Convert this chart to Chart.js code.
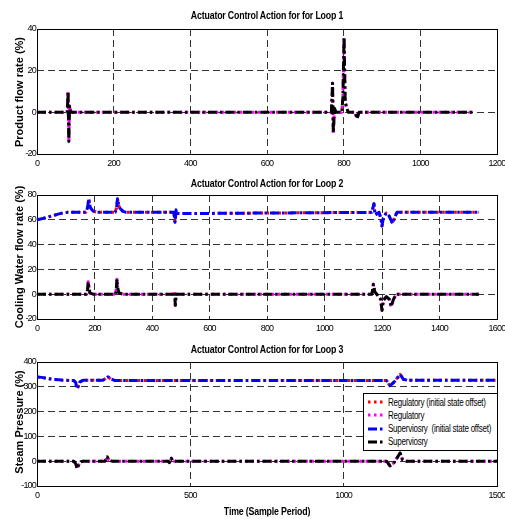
<!DOCTYPE html>
<html>
<head>
<meta charset="utf-8">
<script src="https://cdn.jsdelivr.net/npm/chart.js@4.4.0/dist/chart.umd.min.js"></script>
<style>
  body { margin: 0; background: #fff; }
  #wrap { position: relative; width: 505px; height: 519px; overflow: hidden; background: #fff; }
  canvas { position: absolute; left: 0; top: 0; }
  .lbl { position: absolute; white-space: nowrap; color: #000; font-family: 'Liberation Sans', Arial, sans-serif; font-weight: bold; }
  .ttl { font-size: 10px; letter-spacing: -0.2px; transform: translate(-50%, -50%) scaleX(0.88); }
  .ylab { font-size: 11px; transform: translate(-50%, -50%) rotate(-90deg); }
  #legend { position: absolute; left: 363px; top: 393px; width: 133px; height: 56px; border: 1px solid #000; background: #fff; font-family: 'Liberation Sans', Arial, sans-serif; font-size: 10px; }
  #legend .row { position: absolute; left: 4px; height: 12px; display: flex; align-items: center; white-space: pre; }
  #legend svg { margin-right: 3px; flex: none; }
  #legend span { display: inline-block; white-space: pre; transform-origin: left center; transform: scaleX(0.8); letter-spacing: -0.3px; }
</style>
</head>
<body>
<div id="wrap">
  <canvas id="c1" width="505" height="519"></canvas>
  <canvas id="c2" width="505" height="519"></canvas>
  <canvas id="c3" width="505" height="519"></canvas>

  <div class="lbl ttl" style="left:267px; top:15px;">Actuator Control Action for for Loop 1</div>
  <div class="lbl ttl" style="left:267px; top:183px;">Actuator Control Action for for Loop 2</div>
  <div class="lbl ttl" style="left:267px; top:349px;">Actuator Control Action for for Loop 3</div>
  <div class="lbl ylab" style="left:19px; top:92px;">Product flow rate (%)</div>
  <div class="lbl ylab" style="left:19px; top:257px;">Cooling Water flow rate (%)</div>
  <div class="lbl ylab" style="left:19px; top:422px;">Steam Pressure (%)</div>
  <div class="lbl ttl" style="left:267px; top:511px;">Time (Sample Period)</div>

  <div id="legend"></div>
</div>

<script>
// series names (legend order)
const seriesNames = ['Regulatory (initial state offset)', 'Regulatory', 'Superviosry  (initial state offset)', 'Superviosry'];

// tick settings per loop
const loop1XTicks = { min: 0, max: 1200, step: 200 };
const loop1YTicks = { min: -20, max: 40, step: 20 };
const loop2XTicks = { min: 0, max: 1600, step: 200 };
const loop2YTicks = { min: -20, max: 80, step: 20 };
const loop3XTicks = { min: 0, max: 1500, step: 500 };
const loop3YTicks = { min: -100, max: 400, step: 100 };

// Loop 1 - product flow rate [sample, %]
const loop1Regulatory = [[0,0],[79,0],[81,10],[83,-14],[85,3],[88,0],[768,0],[771,14],[773,-10],[776,2],[780,0],[795,0],[798,7],[801,36],[804,5],[808,2],[812,0],[830,0],[835,-3],[840,0],[1137,0]];
const loop1Supervisory = [[0,0],[79,0],[81,10],[83,-14],[85,3],[88,0],[768,0],[771,14],[773,-10],[776,2],[780,0],[795,0],[798,7],[801,36],[804,5],[808,2],[812,0],[830,0],[835,-3],[840,0],[1137,0]];

// Loop 2 - cooling water flow rate
const loop2RegulatoryOffset = [[0,60],[20,61],[50,63],[80,65],[105,66],[170,66],[176,70],[180,77],[185,70],[195,67],[210,66],[272,66],[277,70],[280,77],[286,70],[298,67],[310,66],[476,66],[480,58],[484,68],[490,65],[1165,66],[1172,73],[1176,64],[1190,66],[1197,60],[1200,55],[1205,62],[1215,65.5],[1225,63],[1237,57],[1244,62],[1252,66],[1537,66]];
const loop2Regulatory = [[0,0],[172,0],[176,4],[178,10],[181,5],[184,1],[195,0],[273,0],[276,5],[278,12],[281,5],[285,1],[300,0],[476,0],[479,2],[481,-9],[484,0],[1165,0],[1170,8],[1175,2],[1185,-1],[1195,-4],[1200,-13],[1205,-5],[1215,-2],[1225,-4],[1232,-10],[1240,-4],[1250,0],[1537,0]];
const loop2SupervisoryOffset = [[0,60],[20,61],[50,63],[80,65],[105,66],[170,66],[176,70],[180,77],[185,70],[195,67],[210,66],[272,66],[277,70],[280,77],[286,70],[298,67],[310,66],[476,66],[480,58],[484,68],[490,65],[1165,66],[1172,73],[1176,64],[1190,66],[1197,60],[1200,55],[1205,62],[1215,65.5],[1225,63],[1237,57],[1244,62],[1252,66],[1537,66]];
const loop2Supervisory = [[0,0],[172,0],[176,4],[178,10],[181,5],[184,1],[195,0],[273,0],[276,5],[278,12],[281,5],[285,1],[300,0],[476,0],[479,2],[481,-9],[484,0],[1165,0],[1170,8],[1175,2],[1185,-1],[1195,-4],[1200,-13],[1205,-5],[1215,-2],[1225,-4],[1232,-10],[1240,-4],[1250,0],[1537,0]];

// Loop 3 - steam pressure
const loop3RegulatoryOffset = [[0,340],[15,338],[40,332],[80,327],[120,325],[126,318],[130,292],[134,300],[140,320],[150,326],[215,326],[225,335],[232,340],[240,332],[255,325],[1140,325],[1151,304],[1165,320],[1184,350],[1195,330],[1210,326],[1500,326]];
const loop3Regulatory = [[0,0],[120,0],[126,-10],[131,-30],[136,-15],[143,-2],[150,0],[222,0],[229,18],[234,5],[245,0],[428,0],[432,-6],[438,12],[444,0],[1140,0],[1151,-19],[1165,-5],[1184,33],[1192,5],[1205,0],[1500,0]];
const loop3SupervisoryOffset = [[0,340],[15,338],[40,332],[80,327],[120,325],[126,318],[130,292],[134,300],[140,320],[150,326],[215,326],[225,335],[232,340],[240,332],[255,325],[1140,325],[1151,304],[1165,320],[1184,350],[1195,330],[1210,326],[1500,326]];
const loop3Supervisory = [[0,0],[120,0],[126,-10],[131,-30],[136,-15],[143,-2],[150,0],[222,0],[229,18],[234,5],[245,0],[428,0],[432,-6],[438,12],[444,0],[1140,0],[1151,-19],[1165,-5],[1184,33],[1192,5],[1205,0],[1500,0]];

const styles = [
  { color: '#ff0000', dash: [2.5, 3.5], width: 3, order: 3 },
  { color: '#ff00ff', dash: [2.5, 3.5], width: 3, order: 2 },
  { color: '#0000ff', dash: [9, 3, 2.5, 3], width: 3, order: 1 },
  { color: '#000000', dash: [9, 3, 2.5, 3], width: 3, order: 0 }
];

const tickFont = { family: "'Liberation Sans', Arial, sans-serif", size: 9 };

// solid box around the plot, and tighter tick text
const frame = {
  id: 'frame',
  beforeDraw(chart) {
    chart.ctx.letterSpacing = '-0.8px';
  },
  beforeDatasetsDraw(chart) {
    const { ctx, chartArea: a } = chart;
    ctx.save();
    ctx.strokeStyle = '#000';
    ctx.lineWidth = 1;
    ctx.setLineDash([]);
    ctx.strokeRect(a.left + 0.5, a.top + 0.5, a.right - a.left, a.bottom - a.top);
    ctx.restore();
  }
};

function makeDataset(idx, points) {
  const s = styles[idx];
  return {
    label: seriesNames[idx],
    data: points.map(p => ({ x: p[0], y: p[1] })),
    borderColor: s.color,
    borderDash: s.dash,
    borderWidth: s.width,
    borderJoinStyle: 'round',
    order: s.order,
    pointRadius: 0,
    tension: 0,
    fill: false
  };
}

function axis(t, isX) {
  return {
    type: 'linear',
    min: t.min,
    max: t.max,
    afterBuildTicks: sc => {
      const ticks = [];
      for (let v = t.min; v <= t.max; v += t.step) ticks.push({ value: v });
      sc.ticks = ticks;
    },
    afterFit: sc => {
      if (isX) sc.height = 16; else sc.width = 37;
      sc.paddingLeft = 0; sc.paddingRight = 0;
      sc.paddingTop = 0; sc.paddingBottom = 0;
    },
    grid: { color: '#333', lineWidth: 1, drawTicks: false },
    border: { display: false, dash: [7, 4] },
    ticks: {
      color: '#000', font: tickFont, padding: isX ? 4 : 1, maxRotation: 0, autoSkip: false,
      callback: v => String(v)
    }
  };
}

function makeChart(id, top, bottom, xt, yt, datasets) {
  new Chart(document.getElementById(id), {
    type: 'line',
    data: { datasets },
    options: {
      responsive: false,
      animation: false,
      devicePixelRatio: 1,
      layout: { padding: { left: 0, right: 8, top: top, bottom: 519 - bottom - 16 } },
      plugins: { legend: { display: false }, tooltip: { enabled: false }, title: { display: false } },
      scales: { x: axis(xt, true), y: axis(yt, false) }
    },
    plugins: [frame]
  });
}

makeChart('c1', 29, 154, loop1XTicks, loop1YTicks, [
  makeDataset(1, loop1Regulatory),
  makeDataset(3, loop1Supervisory)
]);

makeChart('c2', 195, 319, loop2XTicks, loop2YTicks, [
  makeDataset(0, loop2RegulatoryOffset),
  makeDataset(1, loop2Regulatory),
  makeDataset(2, loop2SupervisoryOffset),
  makeDataset(3, loop2Supervisory)
]);

makeChart('c3', 362, 486, loop3XTicks, loop3YTicks, [
  makeDataset(0, loop3RegulatoryOffset),
  makeDataset(1, loop3Regulatory),
  makeDataset(2, loop3SupervisoryOffset),
  makeDataset(3, loop3Supervisory)
]);

// legend inside loop 3 plot
const legend = document.getElementById('legend');
seriesNames.forEach((name, i) => {
  const s = styles[i];
  const row = document.createElement('div');
  row.className = 'row';
  row.style.top = (2 + i * 13.3) + 'px';
  row.innerHTML = '<svg width="17" height="6"><line x1="0" y1="3" x2="17" y2="3" stroke="' + s.color +
    '" stroke-width="3" stroke-dasharray="' + s.dash.join(' ') + '"/></svg><span>' + name + '</span>';
  legend.appendChild(row);
});
</script>
</body>
</html>
